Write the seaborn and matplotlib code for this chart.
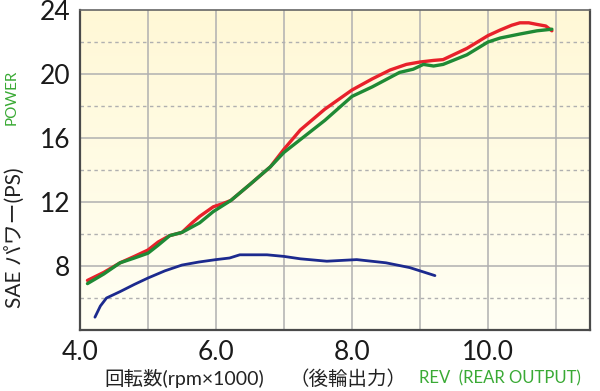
import numpy as np
import pandas as pd
import matplotlib
matplotlib.use('Agg')
import matplotlib.pyplot as plt
import seaborn as sns
from matplotlib.colors import LinearSegmentedColormap

# Valores
rpm_red = [4.11, 4.35, 4.59, 4.8, 5.0, 5.15, 5.32, 5.5, 5.65, 5.76, 5.96, 6.1, 6.22, 6.5, 6.8,
           7.0, 7.24, 7.6, 8.0, 8.3, 8.56, 8.8, 9.0, 9.2, 9.34, 9.69, 10.0, 10.18, 10.35,
           10.47, 10.6, 10.72, 10.85, 10.94]
power_red = [7.1, 7.6, 8.2, 8.6, 9.0, 9.5, 9.9, 10.1, 10.7, 11.1, 11.7, 11.9, 12.1, 13.1, 14.2,
             15.3, 16.5, 17.8, 19.0, 19.7, 20.25, 20.6, 20.75, 20.85, 20.9, 21.6, 22.4, 22.75,
             23.05, 23.2, 23.2, 23.1, 23.0, 22.7]

rpm_green = [4.11, 4.35, 4.59, 4.8, 5.0, 5.15, 5.32, 5.5, 5.76, 5.96, 6.22, 6.5, 6.8, 7.0, 7.24,
             7.6, 8.0, 8.3, 8.7, 8.9, 9.05, 9.2, 9.34, 9.69, 10.0, 10.18, 10.47, 10.72, 10.94]
power_green = [6.9, 7.5, 8.2, 8.5, 8.8, 9.3, 9.9, 10.1, 10.7, 11.4, 12.1, 13.1, 14.2, 15.1, 15.9,
               17.1, 18.6, 19.2, 20.1, 20.3, 20.6, 20.5, 20.6, 21.2, 22.0, 22.25, 22.5, 22.7, 22.8]

rpm_blue = [4.22, 4.3, 4.39, 4.59, 4.8, 5.0, 5.25, 5.5, 5.75, 6.0, 6.2, 6.35, 6.75, 7.0, 7.24,
            7.63, 8.07, 8.5, 8.85, 9.22]
power_blue = [4.8, 5.5, 6.0, 6.4, 6.85, 7.25, 7.7, 8.06, 8.25, 8.4, 8.5, 8.7, 8.7, 8.6, 8.45,
              8.3, 8.4, 8.2, 7.9, 7.4]

x_ticks = [4.0, 6.0, 8.0, 10.0]
y_ticks = [8, 12, 16, 20, 24]

sns.set_style('white')
plt.rcParams['font.family'] = ['Lato', 'Noto Sans CJK JP', 'DejaVu Sans']

fig = plt.figure(figsize=(6, 3.91), dpi=100)
ax = fig.add_axes([0.1333, 0.156, 0.85, 0.8184])

# fundo em degradê
cmap = LinearSegmentedColormap.from_list('bg', ['#fffff4', '#fff8d6'])
grad = np.linspace(0, 1, 256).reshape(-1, 1)
ax.imshow(grad, extent=[4.0, 11.5, 4, 24], origin='lower', aspect='auto', cmap=cmap, zorder=0)

# grade
for xv in np.arange(5.0, 11.5, 1.0):
    ax.axvline(xv, color='#b0b0b0', lw=1.1, zorder=1)
for yv in [8, 12, 16, 20]:
    ax.axhline(yv, color='#b0b0b0', lw=1.1, zorder=1)
for yv in [6, 10, 14, 18, 22]:
    ax.axhline(yv, color='#b0b0b0', lw=1.0, ls=(0, (2.5, 2.5)), zorder=1)

df_red = pd.DataFrame({'rpm': rpm_red, 'ps': power_red})
df_green = pd.DataFrame({'rpm': rpm_green, 'ps': power_green})
df_blue = pd.DataFrame({'rpm': rpm_blue, 'ps': power_blue})

sns.lineplot(data=df_blue, x='rpm', y='ps', ax=ax, color='#1c2a8e', lw=2.0,
             sort=False, solid_capstyle='round', solid_joinstyle='round', zorder=3)
sns.lineplot(data=df_green, x='rpm', y='ps', ax=ax, color='#1f8a35', lw=2.4,
             sort=False, solid_capstyle='round', solid_joinstyle='round', zorder=4)
sns.lineplot(data=df_red, x='rpm', y='ps', ax=ax, color='#e8212b', lw=2.4,
             sort=False, solid_capstyle='round', solid_joinstyle='round', zorder=3.5)

ax.set_xlim(4.0, 11.5)
ax.set_ylim(4, 24)
ax.set_xticks(x_ticks)
ax.set_xticklabels([f'{v:.1f}' for v in x_ticks])
ax.set_yticks(y_ticks)
ax.tick_params(axis='both', length=0, labelsize=19, colors='#1a1a1a', pad=7)
ax.set_xlabel('')
ax.set_ylabel('')

for side in ['left', 'bottom', 'right', 'top']:
    ax.spines[side].set_visible(True)
    ax.spines[side].set_color('#4a4a4a')
    ax.spines[side].set_linewidth(1.6)
ax.spines['top'].set_color('#666666')
ax.spines['top'].set_linewidth(1.2)

fig.text(0.02, 0.752, 'POWER', rotation=90, color='#3aaa35', fontsize=11,
         ha='center', va='center')
fig.text(0.027, 0.391, 'SAE パワー(PS)', rotation=90, color='#222222', fontsize=15,
         ha='center', va='center')
fig.text(0.307, 0.032, '回転数(rpm×1000)', color='#222222', fontsize=14,
         ha='center', va='center')
fig.text(0.58, 0.032, '（後輪出力）', color='#222222', fontsize=14,
         ha='center', va='center')
fig.text(0.833, 0.032, 'REV  (REAR OUTPUT)', color='#3aaa35', fontsize=12,
         ha='center', va='center')

plt.savefig('out.png', dpi=100)
